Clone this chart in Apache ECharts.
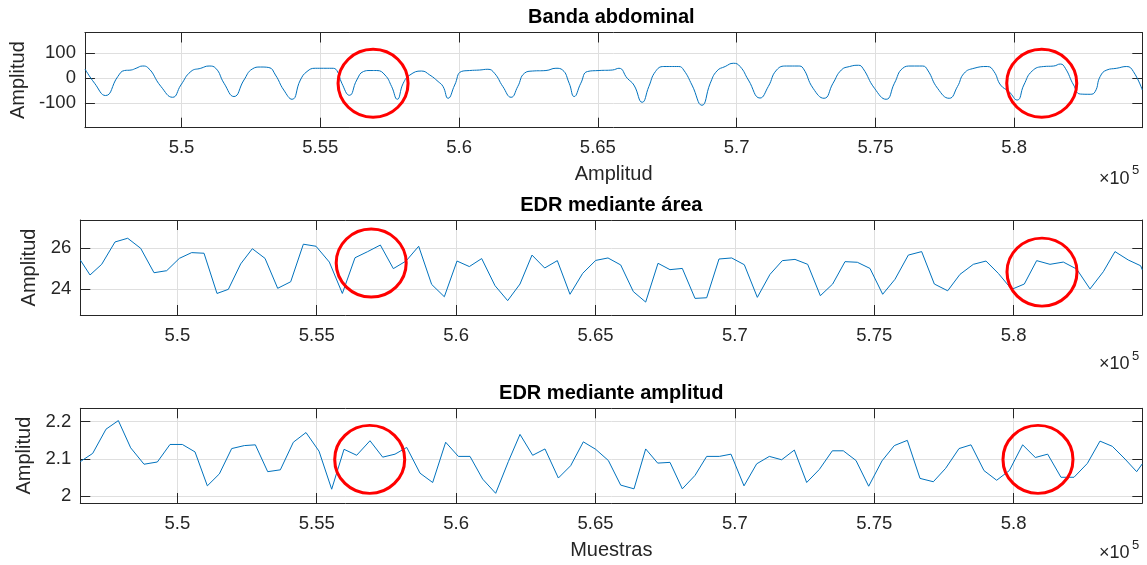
<!DOCTYPE html>
<html><head><meta charset="utf-8">
<script src="https://cdn.jsdelivr.net/npm/echarts@6/dist/echarts.min.js"></script>
<style>html,body{margin:0;padding:0;background:#fff}#c{width:1147px;height:565px}</style>
</head><body><div id="c"></div>
<script>
// Panel 1: Banda abdominal (samples, amplitude)
const abdX = [546522,546868,547263,547705,547945,548184,548363,548602,548782,549260,
  549678,549977,550336,550695,550994,551233,551532,551890,552249,552548,
  552847,553146,553385,553684,553983,554282,554521,554820,555119,555418,
  555597,555776,556051,556314,556554,556793,557032,557331,557570,557773,
  557988,558228,558646,558945,559244,559423,559603,559842,560081,560380,
  560739,561037,561277,561576,561874,562114,562353,562652,563130,563489,
  563728,563967,564146,564385,564625,565043,565521,565760,566059,566298,
  566597,566837,567076,567375,567913,568092,568391,568750,569049,569288,
  569587,569886,570125,570424,570842,571140,571439,571798,572216,572396,
  572754,573149,573472,573771,574070,574392,574548,574966,575385,575684,
  575983,576282,576700,576880,577238,577657,577956,578195,578553,579032,
  579271,579510,579809,580108,580347,580646,581064,581423,581662,581842,
  582141,582380,582738,582918,583097,583336,583695,584054,584293,584616];
const abdY = [37,-20,-69,7,31,33,40,49,43,-33,
  -76,-27,27,40,49,40,-20,-73,-7,37,
  45,43,13,-47,-84,-7,27,40,40,40,
  31,-20,-68,-7,27,31,31,13,-33,-84,
  -20,13,29,13,-13,-33,-80,-27,27,31,
  33,36,20,-33,-76,-33,20,29,31,40,
  33,-20,-73,-20,27,31,33,40,0,-27,
  -96,-33,27,47,47,33,-27,-108,-20,29,
  47,60,47,-7,-79,-33,33,49,49,40,
  -40,-80,-20,33,47,52,40,-40,-84,-20,
  40,49,49,33,-40,-80,-33,20,40,47,
  27,-27,-53,-87,-27,29,47,49,57,40,
  -27,-63,-64,-53,7,33,40,47,27,-47];

// Panel 2: EDR mediante área
const areaX = [546521,546869,547287,547765,548220,548686,549164,549619,550073,550515,
  550958,551424,551830,552273,552691,553146,553600,554067,554521,554975,
  555453,555920,556374,556829,557283,557749,558204,558658,559124,559578,
  560033,560475,560918,561396,561850,562293,562723,563178,563632,564086,
  564541,565007,565449,565904,566358,566801,567243,567673,568115,568570,
  568989,569431,569885,570339,570806,571260,571703,572157,572611,573066,
  573508,573950,574393,574847,575302,575744,576222,576700,577155,577633,
  578075,578554,579008,579450,579929,580383,580826,581304,581782,582260,
  582739,583217,583635,584113,584556,584615];
const areaY = [25.43,24.70,25.22,26.31,26.49,26.00,24.81,24.91,25.51,25.79,
  25.76,23.80,24.00,25.24,25.98,25.51,24.05,24.37,26.20,26.10,
  25.33,23.80,25.54,25.84,26.16,25.01,25.38,26.10,24.24,23.64,
  25.38,25.11,25.50,24.18,23.45,24.26,25.67,25.04,25.40,23.76,
  24.78,25.41,25.53,25.19,23.89,23.38,25.27,24.96,25.02,23.56,
  23.59,25.48,25.53,25.20,23.61,24.73,25.40,25.46,25.22,23.69,
  24.26,25.35,25.32,25.02,23.76,24.49,25.67,25.84,24.26,23.93,
  24.73,25.22,25.38,24.78,24.00,24.26,25.40,25.22,25.33,24.99,
  24.02,24.86,25.84,25.43,25.15,24.95];

// Panel 3: EDR mediante amplitud
const ampX = [546521,546964,547442,547885,548327,548806,549284,549738,550180,550635,
  551077,551508,551950,552404,552799,553242,553696,554162,554616,555083,
  555537,555980,556434,556912,557367,557809,558229,558706,559160,559626,
  560081,560499,560954,561420,561874,562293,562747,563189,563668,564110,
  564564,565007,565461,565904,566382,566801,567231,567673,568115,568570,
  568989,569443,569861,570328,570782,571236,571679,572133,572576,573030,
  573496,573890,574345,574800,575278,575720,576186,576641,577119,577561,
  578040,578470,578936,579391,579845,580323,580778,581220,581698,582165,
  582643,583097,583540,583994,584413,584615];
const ampY = [2.093,2.115,2.180,2.203,2.130,2.086,2.092,2.139,2.139,2.119,
  2.028,2.060,2.128,2.136,2.138,2.066,2.071,2.145,2.171,2.121,
  2.019,2.126,2.110,2.149,2.105,2.113,2.131,2.062,2.037,2.145,
  2.107,2.107,2.046,2.008,2.093,2.166,2.110,2.127,2.049,2.082,
  2.146,2.126,2.096,2.030,2.020,2.127,2.089,2.091,2.020,2.056,
  2.107,2.107,2.113,2.028,2.087,2.107,2.098,2.124,2.037,2.072,
  2.122,2.122,2.096,2.027,2.095,2.136,2.150,2.048,2.039,2.075,
  2.128,2.138,2.069,2.043,2.069,2.138,2.104,2.113,2.051,2.051,
  2.088,2.148,2.134,2.100,2.066,2.087];

const xTicks = [550000,555000,560000,565000,570000,575000,580000];
const yTicks = [[-100,0,100],[24,26],[2,2.1,2.2]];
const yRanges = [[-197.6,183],[22.75,27.38],[1.982,2.236]];
const xRange = [546520,584615];
const titles = ['Banda abdominal','EDR mediante área','EDR mediante amplitud'];
const xNames = ['Amplitud','','Muestras'];
const yName = 'Amplitud';
const circleCenters = [
  [[556901,-20],[580992,-20]],
  [[556955,25.28],[581017,24.84]],
  [[556901,2.099],[580873,2.099]]
];
const seriesX = [abdX, areaX, ampX];
const seriesY = [abdY, areaY, ampY];

const FONT = "'Liberation Sans', Arial, Helvetica, sans-serif";
const AX = '#262626';
const GRIDC = '#dfdfdf';
const gridTops = [32.5, 220, 408.3];
const gridHeights = [95.2, 95, 94.7];
const yNameGaps = [50, 34, 38];
const exponentOffsets = [51, 49.5, 50];
const PLOT_LEFT = 80.3, PLOT_W = 1062;

const grids = [], xAxes = [], yAxes = [], series = [], graphics = [];
for (let i = 0; i < 3; i++) {
  grids.push({left: PLOT_LEFT, width: PLOT_W, top: gridTops[i], height: gridHeights[i], containLabel: false});
  const tickCommon = {show: true, inside: true, length: 10, lineStyle: {color: AX, width: 1}};
  xAxes.push({
    type: 'value', gridIndex: i, position: 'bottom', min: xRange[0], max: xRange[1],
    axisLine: {show: true, onZero: false, lineStyle: {color: AX, width: 1}},
    axisTick: Object.assign({customValues: xTicks}, tickCommon),
    axisLabel: {customValues: xTicks, color: AX, fontSize: 18.5, fontFamily: FONT, margin: 11,
      formatter: v => String(+(v / 1e5).toFixed(2))},
    splitLine: {show: true, lineStyle: {color: GRIDC, width: 1}},
    name: xNames[i], nameLocation: 'middle', nameGap: 37,
    nameTextStyle: {color: AX, fontSize: 20, fontFamily: FONT}
  });
  xAxes.push({
    type: 'value', gridIndex: i, position: 'top', min: xRange[0], max: xRange[1],
    axisLine: {show: true, onZero: false, lineStyle: {color: AX, width: 1}},
    axisTick: Object.assign({customValues: xTicks}, tickCommon),
    axisLabel: {show: false, customValues: xTicks},
    splitLine: {show: false}
  });
  yAxes.push({
    type: 'value', gridIndex: i, position: 'left', min: yRanges[i][0], max: yRanges[i][1],
    axisLine: {show: true, onZero: false, lineStyle: {color: AX, width: 1}},
    axisTick: Object.assign({customValues: yTicks[i]}, tickCommon),
    axisLabel: {customValues: yTicks[i], color: AX, fontSize: 18.5, fontFamily: FONT, margin: 9},
    splitLine: {show: true, lineStyle: {color: GRIDC, width: 1}},
    name: yName, nameLocation: 'middle', nameGap: yNameGaps[i],
    nameTextStyle: {color: AX, fontSize: 20, fontFamily: FONT}
  });
  yAxes.push({
    type: 'value', gridIndex: i, position: 'right', min: yRanges[i][0], max: yRanges[i][1],
    axisLine: {show: true, onZero: false, lineStyle: {color: AX, width: 1}},
    axisTick: Object.assign({customValues: yTicks[i]}, tickCommon),
    axisLabel: {show: false, customValues: yTicks[i]},
    splitLine: {show: false}
  });
  const xs = seriesX[i], ys = seriesY[i];
  series.push({
    type: 'line', xAxisIndex: 2 * i, yAxisIndex: 2 * i,
    data: xs.map((x, k) => [x, ys[k]]),
    showSymbol: false, smooth: i === 0 ? 0.5 : false,
    lineStyle: {color: '#0072BD', width: 1}, itemStyle: {color: '#0072BD'},
    animation: false, silent: true, z: 3,
    markPoint: {
      symbol: 'circle', symbolSize: [70, 68], silent: true, animation: false,
      itemStyle: {color: 'transparent', borderColor: '#ff0000', borderWidth: 3},
      label: {show: false},
      data: circleCenters[i].map(c => ({coord: c}))
    }
  });
  const cx = PLOT_LEFT + PLOT_W / 2;
  const titleY = [17.9, 205.7, 393.3][i];
  graphics.push({type: 'text', x: cx, y: titleY, z: 10,
    style: {text: titles[i], fill: '#000', font: 'bold 20px ' + FONT, textAlign: 'center', textVerticalAlign: 'middle'}});
  const by = gridTops[i] + gridHeights[i] + exponentOffsets[i];
  graphics.push({type: 'text', x: 1099, y: by, z: 10,
    style: {text: '×10', fill: AX, font: '18px ' + FONT, textAlign: 'left', textVerticalAlign: 'middle'}});
  graphics.push({type: 'text', x: 1132, y: by - 8, z: 10,
    style: {text: '5', fill: AX, font: '13px ' + FONT, textAlign: 'left', textVerticalAlign: 'middle'}});
}

const chart = echarts.init(document.getElementById('c'), null, {renderer: 'canvas'});
chart.setOption({
  backgroundColor: '#ffffff',
  animation: false,
  grid: grids, xAxis: xAxes, yAxis: yAxes, series: series, graphic: graphics
});
</script></body></html>
